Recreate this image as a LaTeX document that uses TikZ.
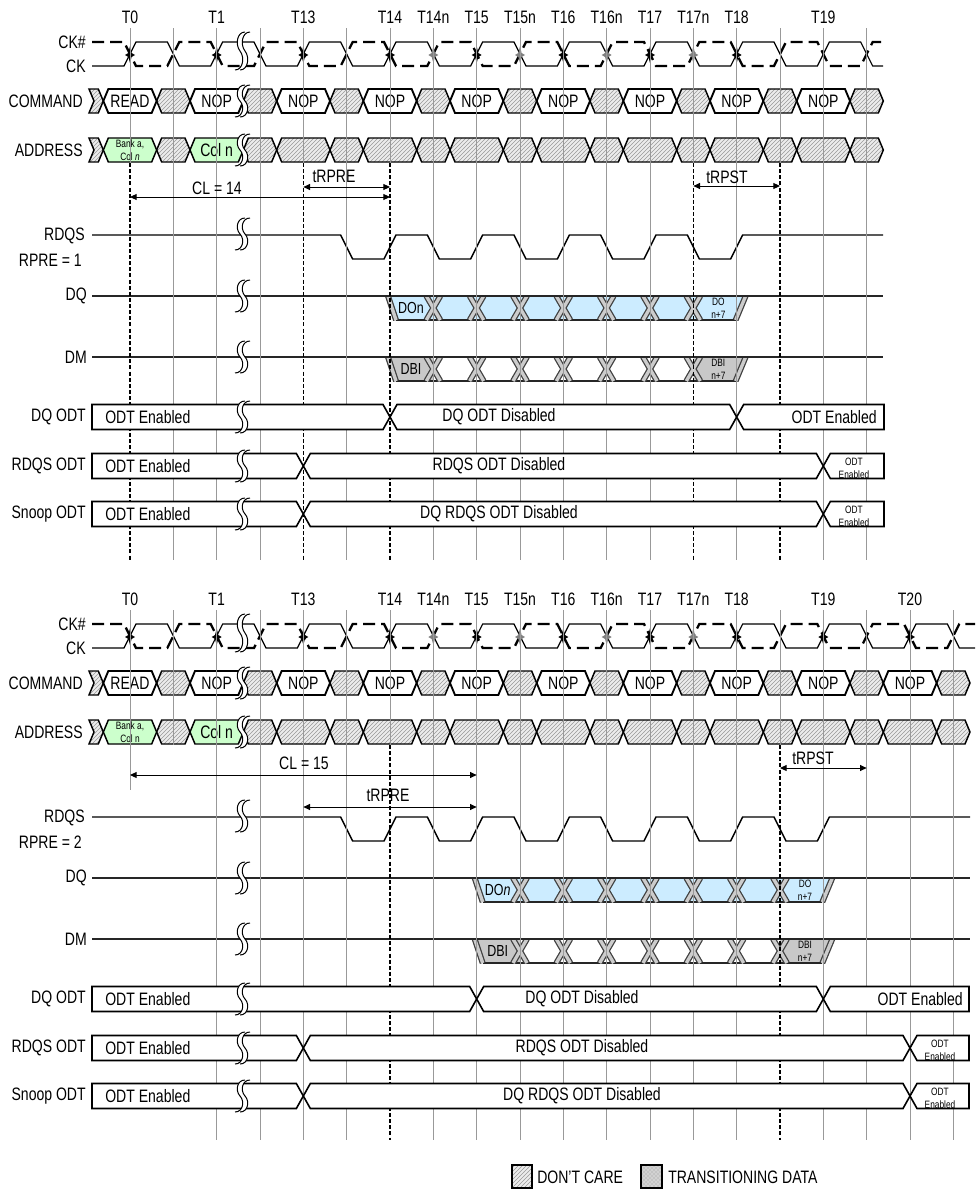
\documentclass[tikz,border=0pt]{standalone}
\usepackage{fontspec}
\setmainfont{Liberation Sans}[FakeStretch=0.78]
\usetikzlibrary{arrows.meta,patterns}

\definecolor{dqblue}{RGB}{204,236,255}
\definecolor{dbigray}{RGB}{200,200,200}
\definecolor{addrgreen}{RGB}{204,255,204}

% x of the i-th clock line
\newcommand{\gx}[1]{(130+43.333*(#1))}

\tikzset{
  tlabel/.style={inner sep=0pt, font=\fontsize{13.5}{15}\selectfont},
  siglabel/.style={anchor=east, inner sep=0pt, font=\fontsize{13.5}{15}\selectfont},
  celltext/.style={inner sep=0pt, align=center, font=\fontsize{13.5}{15}\selectfont},
  smalltext/.style={inner sep=0pt, align=center, font=\fontsize{8}{9.5}\selectfont},
  gridline/.style={draw=gray!80, line width=0.75pt},
  gridmark/.style={draw=black, line width=0.9pt, dash pattern=on 3pt off 1.6pt},
  cksolid/.style={line width=0.9pt},
  ckdash/.style={line width=1.7pt, dash pattern=on 9pt off 4.5pt},
  cmdcell/.style={draw, line width=1.4pt, fill=white},
  carecell/.style={draw, line width=1.1pt, preaction={fill=gray!15}, pattern=north east lines, pattern color=gray!80},
  addrcell/.style={draw, line width=1.1pt, fill=addrgreen},
  sigline/.style={line width=1.1pt},
  busline/.style={draw=black!85, line width=1.4pt},
  odtbox/.style={draw, line width=1.2pt, fill=white},
  timearrow/.style={line width=0.75pt, {Triangle[length=5pt,width=4.5pt]}-{Triangle[length=5pt,width=4.5pt]}},
  xout/.style={line width=4.4pt, black!75},
  xin/.style={line width=2.5pt, gray!40},
  breakline/.style={line width=0.75pt},
}

% clock pair CK / CK#, #1 last column (odd), #2 right end
\newcommand{\clockrow}[2]{%
  \pgfmathtruncatemacro{\clm}{#1-1}%
  \draw[cksolid] (92,66) \foreach \i in {0,2,...,\clm} { -- ({\gx{\i}-6},66) -- ({\gx{\i}+6},42) -- ({\gx{\i+1}-6},42) -- ({\gx{\i+1}+6},66) } -- (#2,66);
  \draw[ckdash] (92,42) \foreach \i in {0,2,...,\clm} { -- ({\gx{\i}-6},42) -- ({\gx{\i}+6},66) -- ({\gx{\i+1}-6},66) -- ({\gx{\i+1}+6},42) } -- (#2,42);
}

% edge mark on the clock crossing
\newcommand{\ckmark}[2]{%
  \fill[#2] ({\gx{#1}},46) -- ({\gx{#1}+1.6},53) -- ({\gx{#1}+5},55) -- ({\gx{#1}+1.6},57) -- ({\gx{#1}},63) -- ({\gx{#1}-1.6},57) -- ({\gx{#1}-5},55) -- ({\gx{#1}-1.6},53) -- cycle;}

% bus cell: style, name, column, half width, middle y, text
\newcommand{\buscell}[6][]{%
  \pgfmathsetmacro{\cellL}{\gx{#3}-#4}%
  \pgfmathsetmacro{\cellR}{\gx{#3}+#4}%
  \draw[#1] (\cellL,#5) -- ({\cellL+5},{#5-12}) -- ({\cellR-5},{#5-12}) -- (\cellR,#5) -- ({\cellR-5},{#5+12}) -- ({\cellL+5},{#5+12}) -- cycle;
  \node[celltext] (#2) at ({\gx{#3}},#5) {#6};}

% eight beat burst: first column, top y, end fill, middle fill
\newcommand{\burst}[4]{%
  \pgfmathsetmacro{\bsx}{\gx{#1}+2}%
  \pgfmathsetmacro{\bex}{\gx{#1+8}+4}%
  \pgfmathsetmacro{\bxa}{\gx{#1+1}}%
  \pgfmathsetmacro{\bxb}{\gx{#1+7}}%
  \fill[#3] ({\bsx-4},#2) -- (\bxa,#2) -- (\bxa,{#2+24}) -- ({\bsx+4},{#2+24}) -- cycle;
  \fill[#4] (\bxa,#2) rectangle (\bxb,{#2+24});
  \fill[#3] (\bxb,#2) -- ({\bex+5},#2) -- ({\bex-5},{#2+24}) -- (\bxb,{#2+24}) -- cycle;
  \draw[busline] ({\bsx+4},{#2+24}) -- ({\bex-5},{#2+24});
  \begin{scope}
    \clip (0,#2) rectangle (978,{#2+24});
    \foreach \k in {1,...,7} {
      \pgfmathsetmacro{\bxk}{\gx{#1+\k}}
      \draw[xout] ({\bxk-7},#2) -- ({\bxk+7},{#2+24}) ({\bxk+7},#2) -- ({\bxk-7},{#2+24});
      \draw[xin] ({\bxk-7},#2) -- ({\bxk+7},{#2+24}) ({\bxk+7},#2) -- ({\bxk-7},{#2+24});
    }
    \draw[xout] ({\bsx-4},#2) -- ({\bsx+4},{#2+24}) ({\bex+5},#2) -- ({\bex-5},{#2+24});
    \draw[xin] ({\bsx-4},#2) -- ({\bsx+4},{#2+24}) ({\bex+5},#2) -- ({\bex-5},{#2+24});
  \end{scope}}

% ODT boxes: middle y, first crossing, second crossing, right end
\newcommand{\odtrow}[4]{%
  \draw[odtbox] (92,{#1-12.5}) -- ({#2-7},{#1-12.5}) -- ({#2},#1) -- ({#2-7},{#1+12.5}) -- (92,{#1+12.5}) -- cycle;
  \draw[odtbox] ({#2},#1) -- ({#2+7},{#1-12.5}) -- ({#3-7},{#1-12.5}) -- ({#3},#1) -- ({#3-7},{#1+12.5}) -- ({#2+7},{#1+12.5}) -- cycle;
  \draw[odtbox] ({#3},#1) -- ({#3+7},{#1-12.5}) -- (#4,{#1-12.5}) -- (#4,{#1+12.5}) -- ({#3+7},{#1+12.5}) -- cycle;}

% time break: middle y, half height
\newcommand{\breakmark}[2]{%
  \fill[white] (245,{#1-#2}) .. controls (237,{#1-#2}) and (235,{#1-#2/3}) .. (240,#1) .. controls (245,{#1+#2/3}) and (243,{#1+#2}) .. (235,{#1+#2}) -- (240,{#1+#2}) .. controls (248,{#1+#2}) and (250,{#1+#2/3}) .. (245,#1) .. controls (240,{#1-#2/3}) and (242,{#1-#2}) .. (250,{#1-#2}) -- cycle;
  \draw[breakline] (245,{#1-#2}) .. controls (237,{#1-#2}) and (235,{#1-#2/3}) .. (240,#1) .. controls (245,{#1+#2/3}) and (243,{#1+#2}) .. (235,{#1+#2});
  \draw[breakline] (250,{#1-#2}) .. controls (242,{#1-#2}) and (240,{#1-#2/3}) .. (245,#1) .. controls (250,{#1+#2/3}) and (248,{#1+#2}) .. (240,{#1+#2});}

\begin{document}
\begin{tikzpicture}[x=0.75pt,y=0.75pt,yscale=-1,xscale=1]
\useasboundingbox (0,0) rectangle (978,1192);

%%%%%%%% RPRE = 1 %%%%%%%%
\begin{scope}
% Time labels
\foreach \i/\t in {0/T0,2/T1,4/T13,6/T14,7/T14n,8/T15,9/T15n,10/T16,11/T16n,12/T17,13/T17n,14/T18,16/T19}
  \node[tlabel] (t\t) at ({\gx{\i}},17) {\t};

% Signal names
\node[siglabel] (tckn) at (86,42) {CK\#};
\node[siglabel] (tck) at (86,66) {CK};
\node[siglabel] (tcmd) at (83,101) {COMMAND};
\node[siglabel] (taddr) at (83,150) {ADDRESS};
\node[siglabel] (trdqs) at (85,236) {RDQS};
\node[siglabel] (trpre) at (82,260) {RPRE = 1};
\node[siglabel] (tdq) at (87,296) {DQ};
\node[siglabel] (tdm) at (87,357) {DM};
\node[siglabel] (tdqodt) at (86,417) {DQ ODT};
\node[siglabel] (trdqsodt) at (86,466) {RDQS ODT};
\node[siglabel] (tsnoopodt) at (86,514) {Snoop ODT};

% Clock
\clockrow{17}{883}
\foreach \i in {0,2,...,14} \ckmark{\i}{black};
\foreach \i in {7,9,11,13} \ckmark{\i}{gray};

% Command
\draw[carecell] (89,89) -- (98.3,89) -- (103.3,101) -- (98.3,113) -- (89,113) -- (94,101) -- cycle;
\foreach \i in {1,3,...,17} \buscell[carecell]{tc\i}{\i}{16.667}{101}{};
\buscell[cmdcell]{tc0}{0}{26.667}{101}{READ};
\foreach \i in {2,4,...,16} \buscell[cmdcell]{tc\i}{\i}{26.667}{101}{NOP};

% Address
\draw[carecell] (89,138) -- (98.3,138) -- (103.3,150) -- (98.3,162) -- (89,162) -- (94,150) -- cycle;
\buscell[addrcell]{ta0}{0}{26.667}{150}{};
\node[smalltext] (tbank) at ({\gx{0}},150) {Bank a,\\Col \textit{n}};
\buscell[carecell]{ta1}{1}{16.667}{150}{};
\buscell[addrcell]{ta2}{2}{26.667}{150}{Col n};
\foreach \i in {3,...,17} {
  \pgfmathsetmacro{\hw}{ifthenelse(mod(\i,2)==1,16.667,26.667)}
  \buscell[carecell]{ta\i}{\i}{\hw}{150}{};
}

% RDQS
\draw[sigline] (92,235) \foreach \i in {5,7,...,13} { -- ({\gx{\i}-6},235) -- ({\gx{\i}+6},259) -- ({\gx{\i+1}-6},259) -- ({\gx{\i+1}+6},235) } -- (883,235);

% DQ, DM
\burst{6}{296}{dqblue}{dqblue}
\draw[busline] (92,296) -- (883,296);
\node[celltext, font=\fontsize{12}{14}\selectfont] (tdon) at ({\gx{6}+21},308) {DOn};
\node[smalltext] (tdo7) at ({\gx{13}+25},308) {DO\\n+7};
\burst{6}{357}{dbigray}{white}
\draw[busline] (92,357) -- (883,357);
\node[celltext, font=\fontsize{12}{14}\selectfont] (tdbi) at ({\gx{6}+21},369) {DBI};
\node[smalltext] (tdbi7) at ({\gx{13}+25},369) {DBI\\n+7};

% Clock lines
\foreach \i in {1,2,3,5,7,8,9,10,11,12,14,16,17} \draw[gridline] ({\gx{\i}},28) -- ({\gx{\i}},560);
\foreach \i in {0,4,6,13,15} {
  \draw[gridline] ({\gx{\i}},28) -- ({\gx{\i}},163);
  \draw[gridmark] ({\gx{\i}},163) -- ({\gx{\i}},560);
}

% ODT
\odtrow{417}{\gx{6}}{\gx{14}}{884}
\odtrow{466}{\gx{4}}{\gx{16}}{884}
\odtrow{514}{\gx{4}}{\gx{16}}{884}
\node[celltext, anchor=west] (tdqodta) at (105,417) {ODT Enabled};
\node[celltext] (tdqodtb) at (499,417) {DQ ODT Disabled};
\node[celltext, anchor=east] (tdqodtc) at (877,417) {ODT Enabled};
\node[celltext, anchor=west] (trdqsodta) at (105,466) {ODT Enabled};
\node[celltext] (trdqsodtb) at (499,466) {RDQS ODT Disabled};
\node[smalltext] (trdqsodtc) at (854,468) {ODT\\Enabled};
\node[celltext, anchor=west] (tsnoopodta) at (105,514) {ODT Enabled};
\node[celltext] (tsnoopodtb) at (499,514) {DQ RDQS ODT Disabled};
\node[smalltext] (tsnoopodtc) at (854,516) {ODT\\Enabled};

% Breaks
\breakmark{51}{19}
\foreach \y in {101,150,234,296,357,417,466,514} \breakmark{\y}{16};

% Timing arrows
\coordinate (tcla) at ({\gx{0}},197);
\coordinate (tclb) at ({\gx{6}},197);
\draw[timearrow] (tcla) -- (tclb);
\node[celltext] (tcl) at (217,188) {CL = 14};
\coordinate (trprea) at ({\gx{4}},187);
\coordinate (trpreb) at ({\gx{6}},187);
\draw[timearrow] (trprea) -- (trpreb);
\node[celltext] (trpret) at (334,176) {tRPRE};
\coordinate (trpsta) at ({\gx{13}},186);
\coordinate (trpstb) at ({\gx{15}},186);
\draw[timearrow] (trpsta) -- (trpstb);
\node[celltext] (trpstt) at (727,177) {tRPST};
\end{scope}

%%%%%%%% RPRE = 2 %%%%%%%%
\begin{scope}[shift={(0,582)}]
% Time labels
\foreach \i/\t in {0/T0,2/T1,4/T13,6/T14,7/T14n,8/T15,9/T15n,10/T16,11/T16n,12/T17,13/T17n,14/T18,16/T19,18/T20}
  \node[tlabel] (b\t) at ({\gx{\i}},17) {\t};

% Signal names
\node[siglabel] (bckn) at (86,42) {CK\#};
\node[siglabel] (bck) at (86,66) {CK};
\node[siglabel] (bcmd) at (83,101) {COMMAND};
\node[siglabel] (baddr) at (83,150) {ADDRESS};
\node[siglabel] (brdqs) at (85,236) {RDQS};
\node[siglabel] (brpre) at (82,260) {RPRE = 2};
\node[siglabel] (bdq) at (87,296) {DQ};
\node[siglabel] (bdm) at (87,357) {DM};
\node[siglabel] (bdqodt) at (86,417) {DQ ODT};
\node[siglabel] (brdqsodt) at (86,466) {RDQS ODT};
\node[siglabel] (bsnoopodt) at (86,514) {Snoop ODT};

% Clock
\clockrow{19}{975}
\foreach \i in {0,2,...,18} \ckmark{\i}{black};
\foreach \i in {7,9,11,13} \ckmark{\i}{gray};

% Command
\draw[carecell] (89,89) -- (98.3,89) -- (103.3,101) -- (98.3,113) -- (89,113) -- (94,101) -- cycle;
\foreach \i in {1,3,...,19} \buscell[carecell]{bc\i}{\i}{16.667}{101}{};
\buscell[cmdcell]{bc0}{0}{26.667}{101}{READ};
\foreach \i in {2,4,...,18} \buscell[cmdcell]{bc\i}{\i}{26.667}{101}{NOP};

% Address
\draw[carecell] (89,138) -- (98.3,138) -- (103.3,150) -- (98.3,162) -- (89,162) -- (94,150) -- cycle;
\buscell[addrcell]{ba0}{0}{26.667}{150}{};
\node[smalltext] (bbank) at ({\gx{0}},150) {Bank a,\\Col n};
\buscell[carecell]{ba1}{1}{16.667}{150}{};
\buscell[addrcell]{ba2}{2}{26.667}{150}{Col n};
\foreach \i in {3,...,19} {
  \pgfmathsetmacro{\hw}{ifthenelse(mod(\i,2)==1,16.667,26.667)}
  \buscell[carecell]{ba\i}{\i}{\hw}{150}{};
}

% RDQS
\draw[sigline] (92,235) \foreach \i in {5,7,...,15} { -- ({\gx{\i}-6},235) -- ({\gx{\i}+6},259) -- ({\gx{\i+1}-6},259) -- ({\gx{\i+1}+6},235) } -- (970,235);

% DQ, DM
\burst{8}{296}{dqblue}{dqblue}
\draw[busline] (92,296) -- (970,296);
\node[celltext, font=\fontsize{12}{14}\selectfont] (bdon) at ({\gx{8}+21},308) {DO\textit{n}};
\node[smalltext] (bdo7) at ({\gx{15}+25},308) {DO\\n+7};
\burst{8}{357}{dbigray}{white}
\draw[busline] (92,357) -- (970,357);
\node[celltext, font=\fontsize{12}{14}\selectfont] (bdbi) at ({\gx{8}+21},369) {DBI};
\node[smalltext] (bdbi7) at ({\gx{15}+25},369) {DBI\\n+7};

% Clock lines
\draw[gridline] ({\gx{0}},28) -- ({\gx{0}},208);
\draw[gridline] ({\gx{1}},28) -- ({\gx{1}},163);
\foreach \i in {2,3,4,5,7,8,9,10,11,12,13,14,16,17,18,19} \draw[gridline] ({\gx{\i}},28) -- ({\gx{\i}},558);
\foreach \i in {6,15} {
  \draw[gridline] ({\gx{\i}},28) -- ({\gx{\i}},163);
  \draw[gridmark] ({\gx{\i}},163) -- ({\gx{\i}},558);
}

% ODT
\odtrow{417}{\gx{8}}{\gx{16}}{969}
\odtrow{466}{\gx{4}}{\gx{18}}{969}
\odtrow{514}{\gx{4}}{\gx{18}}{969}
\node[celltext, anchor=west] (bdqodta) at (105,417) {ODT Enabled};
\node[celltext] (bdqodtb) at (582,417) {DQ ODT Disabled};
\node[celltext, anchor=east] (bdqodtc) at (963,417) {ODT Enabled};
\node[celltext, anchor=west] (brdqsodta) at (105,466) {ODT Enabled};
\node[celltext] (brdqsodtb) at (582,466) {RDQS ODT Disabled};
\node[smalltext] (brdqsodtc) at (940,468) {ODT\\Enabled};
\node[celltext, anchor=west] (bsnoopodta) at (105,514) {ODT Enabled};
\node[celltext] (bsnoopodtb) at (582,514) {DQ RDQS ODT Disabled};
\node[smalltext] (bsnoopodtc) at (940,516) {ODT\\Enabled};

% Breaks
\breakmark{51}{19}
\foreach \y in {101,150,234,296,357,417,466,514} \breakmark{\y}{16};

% Timing arrows
\coordinate (bcla) at ({\gx{0}},193);
\coordinate (bclb) at ({\gx{8}},193);
\draw[timearrow] (bcla) -- (bclb);
\node[celltext] (bcl) at (304,181) {CL = 15};
\coordinate (brprea) at ({\gx{4}},225);
\coordinate (brpreb) at ({\gx{8}},225);
\draw[timearrow] (brprea) -- (brpreb);
\node[celltext] (brpret) at (388,213) {tRPRE};
\coordinate (brpsta) at ({\gx{15}},186);
\coordinate (brpstb) at ({\gx{17}},186);
\draw[timearrow] (brpsta) -- (brpstb);
\node[celltext] (brpstt) at (813,176) {tRPST};
\end{scope}

% Legend
\draw[carecell, line width=0.9pt] (512,1165) rectangle (532,1188);
\node[celltext, anchor=west] (legcare) at (537,1177) {DON'T CARE};
\draw[line width=0.9pt, preaction={fill=gray!35}, pattern=crosshatch dots, pattern color=gray!80] (641,1165) rectangle (662,1188);
\node[celltext, anchor=west] (legtrans) at (668,1177) {TRANSITIONING DATA};

\end{tikzpicture}
\end{document}
